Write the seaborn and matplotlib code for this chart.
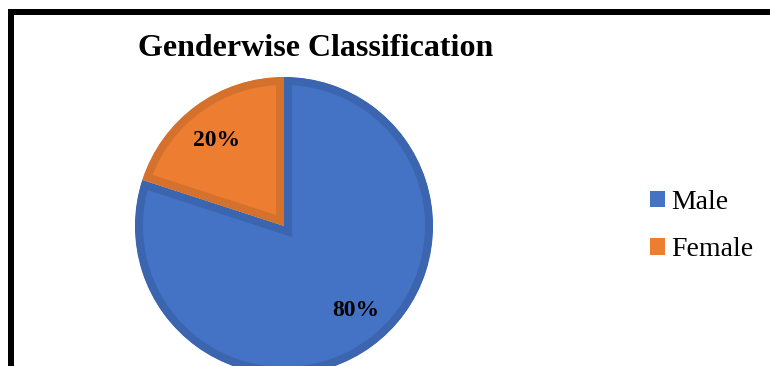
import matplotlib
matplotlib.use("Agg")
import matplotlib.pyplot as plt
import matplotlib.patches as mpatches
from matplotlib.lines import Line2D
import seaborn as sns

categories = ["Male", "Female"]
values = [80, 20]
fill_colors = ["#4472C4", "#ED7D31"]
edge_colors = ["#3C65B0", "#D4712D"]
title = "Genderwise Classification"

sns.set_theme(style="white")
plt.rcParams["font.family"] = ["Liberation Serif", "DejaVu Serif"]

W, H = 770, 366
fig = plt.figure(figsize=(W / 100, H / 100), dpi=100)
fig.patch.set_facecolor("white")

cx, cy, r = 284, 226, 149
ax = fig.add_axes([(cx - r) / W, (H - cy - r) / H, 2 * r / W, 2 * r / H])
wedges, texts, autotexts = ax.pie(
    values, colors=fill_colors, startangle=90, counterclock=False,
    autopct="%1.0f%%", pctdistance=0.74, radius=1.0,
    textprops=dict(fontsize=17, fontweight="bold", color="black"),
)
for w, ec in zip(wedges, edge_colors):
    w.set_edgecolor(ec)
    w.set_linewidth(11.5)
    w.set_clip_on(True)
    w.set_clip_path(w)
# small nudges of label placement (Excel-like best fit)
label_nudge = [(0.047, 0.034), (-0.02, -0.027)]
for t, (dx, dy) in zip(autotexts, label_nudge):
    x, y = t.get_position()
    t.set_position((x + dx, y + dy))
ax.set_xlim(-1, 1)
ax.set_ylim(-1, 1)
ax.set_aspect("equal")
ax.axis("off")

fig.text(316 / W, 1 - 49 / H, title, ha="center", va="center",
         fontsize=23, fontweight="bold", color="black")

handles = [mpatches.Patch(facecolor=c, edgecolor="none") for c in fill_colors]
leg = fig.legend(handles, categories, loc="center left",
                 bbox_to_anchor=(650 / W, 1 - 226 / H), frameon=False,
                 fontsize=20, handlelength=0.54, handleheight=0.54,
                 handletextpad=0.22, labelspacing=0.8, borderpad=0,
                 borderaxespad=0)
for t in leg.get_texts():
    t.set_color("black")

lw = 6 * 72 / 100
fig.add_artist(Line2D([11 / W, 1.0], [1 - 11.5 / H, 1 - 11.5 / H],
                      transform=fig.transFigure, color="black", linewidth=lw,
                      solid_capstyle="projecting"))
fig.add_artist(Line2D([11 / W, 11 / W], [0, 1 - 11.5 / H],
                      transform=fig.transFigure, color="black", linewidth=lw,
                      solid_capstyle="projecting"))

fig.savefig("out.png", dpi=100)
